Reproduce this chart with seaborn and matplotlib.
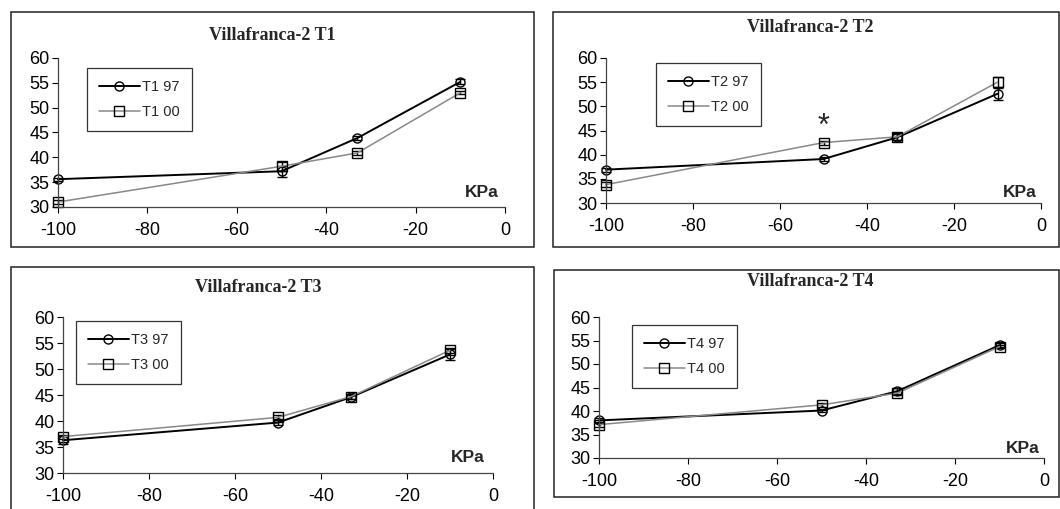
import matplotlib
matplotlib.use("Agg")
import matplotlib.pyplot as plt
import matplotlib.patches as patches
import seaborn as sns

# Pressure (KPa) values shared by all panels
kpa = [-100, -50, -33, -10]

# Panel names and series
panels = ["T1", "T2", "T3", "T4"]

t1_97 = [35.6, 37.2, 43.9, 55.2]
t1_00 = [31.0, 38.2, 40.9, 53.0]
t1_97_err = [0.3, 1.1, 0.4, 0.5]
t1_00_err = [0.4, 0.9, 0.4, 0.3]

t2_97 = [36.9, 39.1, 43.6, 52.6]
t2_00 = [33.8, 42.5, 43.7, 55.0]
t2_97_err = [0.4, 0.4, 0.6, 1.2]
t2_00_err = [0.5, 0.4, 0.7, 1.0]

t3_97 = [36.3, 39.7, 44.6, 52.8]
t3_00 = [37.0, 40.7, 44.7, 53.6]
t3_97_err = [0.8, 0.4, 0.4, 1.0]
t3_00_err = [0.4, 0.4, 0.4, 0.5]

t4_97 = [38.0, 40.1, 44.2, 54.0]
t4_00 = [37.1, 41.3, 43.8, 53.7]
t4_97_err = [0.5, 0.3, 0.6, 0.4]
t4_00_err = [0.5, 0.4, 0.5, 0.3]

series_97 = [t1_97, t2_97, t3_97, t4_97]
series_00 = [t1_00, t2_00, t3_00, t4_00]
err_97 = [t1_97_err, t2_97_err, t3_97_err, t4_97_err]
err_00 = [t1_00_err, t2_00_err, t3_00_err, t4_00_err]

y_ticks = [30, 35, 40, 45, 50, 55, 60]
x_ticks = [-100, -80, -60, -40, -20, 0]

sns.set_style("ticks")
plt.rcParams["font.family"] = ["Liberation Sans", "DejaVu Sans"]
plt.rcParams["axes.unicode_minus"] = False

W, H = 1060, 509
fig = plt.figure(figsize=(W / 100, H / 100), dpi=100)

# layout in pixels: axes (left, right, top, bottom), box (left, right, top, bottom),
# legend corner, title position
axes_px = [(58, 505, 58, 207), (606, 1041, 58, 203),
           (63, 493, 317, 473), (599, 1044, 317, 458)]
box_px = [(11, 534, 12, 247), (553, 1059, 12, 247),
          (11, 534, 267, 530), (554, 1059, 270, 497)]
legend_px = [(87, 68), (656, 63), (76, 321), (632, 325)]
title_px = [(272, 35), (810, 28), (258, 288), (810, 282)]
kpa_pos = [(0.985, 0.10), (0.99, 0.07), (0.98, 0.10), (0.99, 0.07)]

for i, name in enumerate(panels):
    bl, br, bt, bb = box_px[i]
    fig.patches.append(patches.Rectangle(
        (bl / W, 1 - bb / H), (br - bl) / W, (bb - bt) / H,
        transform=fig.transFigure, fill=False, edgecolor="#222222", lw=1.1))

    l, r, t, b = axes_px[i]
    ax = fig.add_axes([l / W, 1 - b / H, (r - l) / W, (b - t) / H])
    ax.set_facecolor("none")

    ax.errorbar(kpa, series_97[i], yerr=err_97[i], fmt="none",
                ecolor="black", elinewidth=1, capsize=3.5, clip_on=False)
    ax.errorbar(kpa, series_00[i], yerr=err_00[i], fmt="none",
                ecolor="black", elinewidth=1, capsize=3.5, clip_on=False)
    sns.lineplot(x=kpa, y=series_97[i], ax=ax, color="black", lw=1.4,
                 marker="o", markersize=6.5, markerfacecolor="none",
                 markeredgecolor="black", markeredgewidth=1,
                 label=f"{name} 97", clip_on=False)
    sns.lineplot(x=kpa, y=series_00[i], ax=ax, color="#888888", lw=1.1,
                 marker="s", markersize=6.5, markerfacecolor="none",
                 markeredgecolor="black", markeredgewidth=1,
                 label=f"{name} 00", clip_on=False)

    ax.set_xlim(-100, 0)
    ax.set_ylim(30, 60)
    ax.set_xticks(x_ticks)
    ax.set_yticks(y_ticks)
    ax.tick_params(axis="both", direction="out", length=4, width=0.8,
                   labelsize=13, colors="black")
    ax.tick_params(axis="x", pad=7)
    ax.tick_params(axis="y", pad=2)
    sns.despine(ax=ax)
    for s in ["left", "bottom"]:
        ax.spines[s].set_color("#444444")
        ax.spines[s].set_linewidth(0.9)
    ax.set_xlabel("")
    ax.set_ylabel("")

    kx, ky = kpa_pos[i]
    ax.text(kx, ky, "KPa", transform=ax.transAxes, ha="right", va="center",
            fontsize=12.5, fontweight="bold")

    lx, ly = legend_px[i]
    leg = ax.legend(loc="upper left", bbox_to_anchor=(lx / W, 1 - ly / H),
                    bbox_transform=fig.transFigure, borderaxespad=0,
                    fontsize=10.5, frameon=True, fancybox=False,
                    handlelength=2.8, handletextpad=0.2, labelspacing=0.8,
                    borderpad=0.8)
    leg.get_frame().set_edgecolor("black")
    leg.get_frame().set_linewidth(0.9)

    tx, ty = title_px[i]
    fig.text(tx / W, 1 - ty / H, f"Villafranca-2 {name}", ha="center",
             va="center", fontsize=13, fontweight="bold",
             family=["Liberation Serif", "DejaVu Serif"])

    if name == "T2":
        # significance mark above the -50 KPa point
        ax.text(kpa[1], series_00[i][1] + 3.2, "*", ha="center", va="center",
                fontsize=22)

fig.savefig("out.png", dpi=100)
